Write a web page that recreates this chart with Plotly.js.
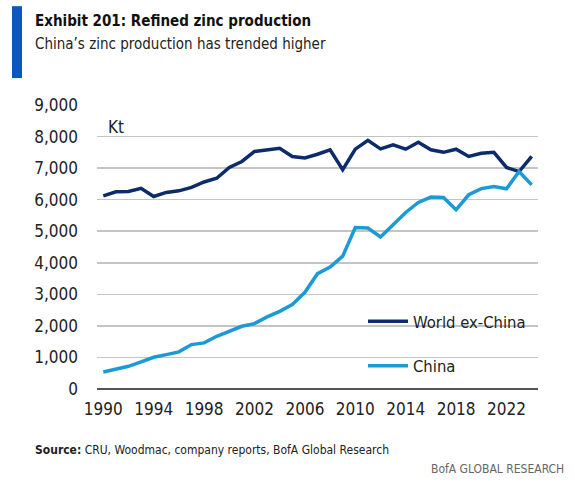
<!DOCTYPE html>
<html>
<head>
<meta charset="utf-8">
<script src="https://cdn.plot.ly/plotly-3.0.1.min.js"></script>
<style>
html,body{margin:0;padding:0;background:#fff;}
#chart{width:575px;height:486px;}
</style>
</head>
<body>
<div id="chart"></div>
<script>
const years = [1990,1991,1992,1993,1994,1995,1996,1997,1998,1999,2000,2001,2002,2003,2004,2005,2006,2007,2008,2009,2010,2011,2012,2013,2014,2015,2016,2017,2018,2019,2020,2021,2022,2023,2024];
const worldExChina = [6120,6250,6260,6360,6100,6230,6280,6390,6560,6680,7020,7210,7530,7580,7630,7370,7320,7440,7580,6950,7600,7880,7610,7740,7600,7820,7580,7500,7600,7370,7470,7500,7020,6890,7370];
const china = [540,617,720,860,1006,1090,1177,1408,1462,1671,1829,1987,2073,2284,2462,2674,3063,3655,3867,4210,5120,5100,4816,5206,5595,5911,6082,6070,5680,6155,6350,6418,6345,6890,6470];
const xTicks = [1990,1994,1998,2002,2006,2010,2014,2018,2022];
const yTicks = [0,1000,2000,3000,4000,5000,6000,7000,8000,9000];
const yTickLabels = ["0","1,000","2,000","3,000","4,000","5,000","6,000","7,000","8,000","9,000"];

const FONT = "'Liberation Sans Narrow', 'DejaVu Sans Condensed', 'Open Sans', sans-serif";

const traces = [
  {x: years, y: worldExChina, name: "World ex-China", type: "scatter", mode: "lines",
   line: {color: "#0c2b6b", width: 3.5}, legendgroup: "a"},
  {x: years, y: china, name: "China", type: "scatter", mode: "lines",
   line: {color: "#1c9ad6", width: 3.5}, legendgroup: "b"}
];

const ML = 97, MR = 37, MT = 105, MB = 96.5, W = 575, H = 486;
const plotW = W - ML - MR, plotH = H - MT - MB;
function px(x){ return (x - ML) / plotW; }
function py(y){ return (H - MB - y) / plotH; }

const layout = {
  width: W, height: H,
  margin: {l: ML, r: MR, t: MT, b: MB},
  paper_bgcolor: "#fff", plot_bgcolor: "#fff",
  font: {family: FONT, color: "#222", size: 17},
  showlegend: true,
  legend: {x: px(363), y: py(344), xanchor: "left", yanchor: "middle",
           bgcolor: "rgba(0,0,0,0)", font: {size: 16.5, color: "#222"},
           tracegroupgap: 20, traceorder: "grouped", itemwidth: 40},
  xaxis: {range: [1989.5, 2024.5], tickvals: xTicks, ticktext: xTicks.map(String),
          showgrid: false, zeroline: false, showline: false, ticks: "",
          ticklabelstandoff: 8, tickfont: {size: 17, color: "#222"}, fixedrange: true},
  yaxis: {range: [0, 9000], tickvals: yTicks, ticktext: yTickLabels,
          showgrid: true, gridcolor: "#c4c4c4", gridwidth: 1.5, zeroline: true,
          zerolinecolor: "#555", zerolinewidth: 2, showline: false, ticks: "",
          ticklabelstandoff: 18, tickfont: {size: 17, color: "#222"}, fixedrange: true},
  shapes: [
    {type: "rect", xref: "paper", yref: "paper", x0: px(12), x1: px(22), y0: py(6), y1: py(78),
     fillcolor: "#0a57c2", line: {width: 0}, layer: "above"}
  ],
  annotations: [
    {xref: "paper", yref: "paper", x: px(33), y: py(21), xanchor: "left", yanchor: "middle",
     text: "<b>Exhibit 201: Refined zinc production</b>", showarrow: false,
     font: {size: 15, color: "#111"}},
    {xref: "paper", yref: "paper", x: px(33), y: py(44), xanchor: "left", yanchor: "middle",
     text: "China’s zinc production has trended higher", showarrow: false,
     font: {size: 15, color: "#222"}},
    {xref: "paper", yref: "paper", x: px(106), y: py(127), xanchor: "left", yanchor: "middle",
     text: "Kt", showarrow: false, font: {size: 17, color: "#222"}},
    {xref: "paper", yref: "paper", x: px(33), y: py(451), xanchor: "left", yanchor: "middle",
     text: "<b>Source:</b> CRU, Woodmac, company reports, BofA Global Research", showarrow: false,
     font: {size: 12, color: "#222"}},
    {xref: "paper", yref: "paper", x: px(566), y: py(470), xanchor: "right", yanchor: "middle",
     text: "BofA GLOBAL RESEARCH", showarrow: false,
     font: {size: 12, color: "#666"}}
  ]
};

Plotly.newPlot("chart", traces, layout, {displayModeBar: false, staticPlot: true});
</script>
</body>
</html>
